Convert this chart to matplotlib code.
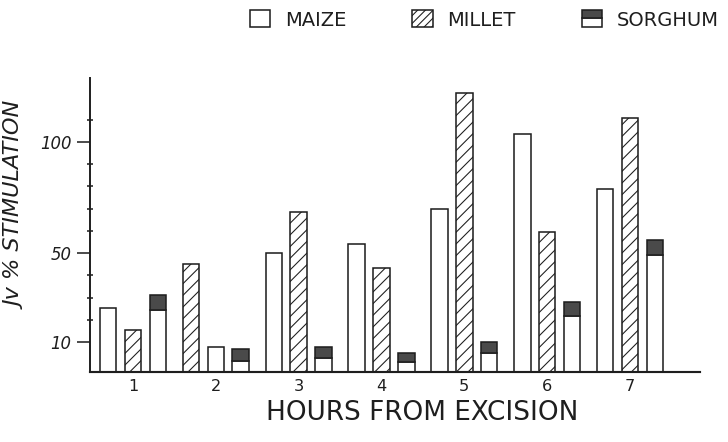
import numpy as np
import matplotlib
matplotlib.use('Agg')
import matplotlib.pyplot as plt
from matplotlib.patches import Rectangle
from matplotlib.legend_handler import HandlerBase

# values (Jv % stimulation)
hours = [1, 2, 3, 4, 5, 6, 7]
maize = [25.4, 7.9, 50.2, 54.0, 69.9, 103.6, 78.7]
millet = [15.4, 45.1, 68.4, 43.2, 121.9, 59.4, 110.7]
sorghum = [31.2, 6.9, 7.9, 4.9, 10.1, 27.9, 55.9]        # top of the whole bar
sorghum_base = [24.4, 1.6, 2.9, 0.9, 4.9, 21.7, 49.2]    # top of the white part
# order of the three bars inside each hour (the hour 2 group starts with millet)
order = [('maize', 'millet', 'sorghum'), ('millet', 'maize', 'sorghum'),
         ('maize', 'millet', 'sorghum'), ('maize', 'millet', 'sorghum'),
         ('maize', 'millet', 'sorghum'), ('maize', 'millet', 'sorghum'),
         ('maize', 'millet', 'sorghum')]

y_floor = -3.3     # the hand drawn axis does not start at zero
ink = '#1e1e1e'
cap_color = '#4a4a4a'

plt.rcParams['hatch.linewidth'] = 0.55
plt.rcParams['hatch.color'] = ink

DPI = 140
fig = plt.figure(figsize=(728 / DPI, 442 / DPI), dpi=DPI)
ax = fig.add_axes([90 / 728, 1 - 371.5 / 442, 610 / 728, 293.5 / 442])

offsets = [-0.3, 0.0, 0.3]
width = 0.2
bar_kw = dict(edgecolor=ink, linewidth=0.8)

for i, h in enumerate(hours):
    for k, name in enumerate(order[i]):
        x = h + offsets[k]
        if name == 'maize':
            ax.bar(x, maize[i] - y_floor, width, bottom=y_floor,
                   facecolor='white', **bar_kw)
        elif name == 'millet':
            ax.bar(x, millet[i] - y_floor, width, bottom=y_floor,
                   facecolor='white', hatch='////', **bar_kw)
        else:
            ax.bar(x, sorghum_base[i] - y_floor, width, bottom=y_floor,
                   facecolor='white', **bar_kw)
            ax.bar(x, sorghum[i] - sorghum_base[i], width, bottom=sorghum_base[i],
                   facecolor=cap_color, **bar_kw)

ax.set_xlim(1 - 43 / 82.8, 7 + 70 / 82.8)
ax.set_ylim(y_floor, 128.8)

for s in ['top', 'right']:
    ax.spines[s].set_visible(False)
ax.spines['left'].set_linewidth(1.0)
ax.spines['bottom'].set_linewidth(1.1)
ax.spines['left'].set_color(ink)
ax.spines['bottom'].set_color(ink)

ax.set_xticks(hours)
ax.set_xticklabels([str(h) for h in hours], fontsize=8.3, color=ink)
ax.tick_params(axis='x', length=0, pad=4)

ax.set_yticks([10, 50, 100])
ax.set_yticklabels(['10', '50', '100'], fontsize=8.5, style='italic', color=ink)
ax.set_yticks([20, 30, 40, 60, 70, 80, 90, 110], minor=True)
ax.tick_params(axis='y', which='major', length=6.5, width=0.8, color=ink,
               direction='out', pad=3)
ax.tick_params(axis='y', which='minor', length=3, width=0.8, color=ink,
               direction='inout')

fig.text(422 / 728, 1 - 413 / 442, 'HOURS FROM EXCISION', fontsize=13.5,
         ha='center', va='center', color=ink)
fig.text(17 / 728, 1 - 206 / 442, 'Jv % STIMULATION', fontsize=11.5,
         style='italic', rotation=90, ha='center', va='center', color=ink)


class SorghumHandler(HandlerBase):
    def create_artists(self, legend, orig_handle, xdescent, ydescent,
                       width, height, fontsize, trans):
        low = Rectangle((-xdescent, -ydescent), width, height * 0.55,
                        facecolor='white', edgecolor=ink, linewidth=0.8,
                        transform=trans)
        top = Rectangle((-xdescent, -ydescent + height * 0.55), width, height * 0.45,
                        facecolor=cap_color, edgecolor=ink, linewidth=0.8,
                        transform=trans)
        return [low, top]


h_maize = Rectangle((0, 0), 1, 1, facecolor='white', edgecolor=ink, linewidth=0.8)
h_millet = Rectangle((0, 0), 1, 1, facecolor='white', edgecolor=ink, linewidth=0.8,
                     hatch='//////')
h_sorghum = Rectangle((0, 0), 1, 1)
leg = fig.legend([h_maize, h_millet, h_sorghum], ['MAIZE', 'MILLET', 'SORGHUM'],
                 handler_map={h_sorghum: SorghumHandler()},
                 loc='center left', bbox_to_anchor=(250 / 728, 1 - 20 / 442),
                 ncol=3, frameon=False, fontsize=10, borderpad=0,
                 borderaxespad=0, handlelength=1.05, handleheight=0.95,
                 handletextpad=0.75, columnspacing=3.4)
for t in leg.get_texts():
    t.set_color(ink)

fig.savefig('out.png', dpi=DPI)
